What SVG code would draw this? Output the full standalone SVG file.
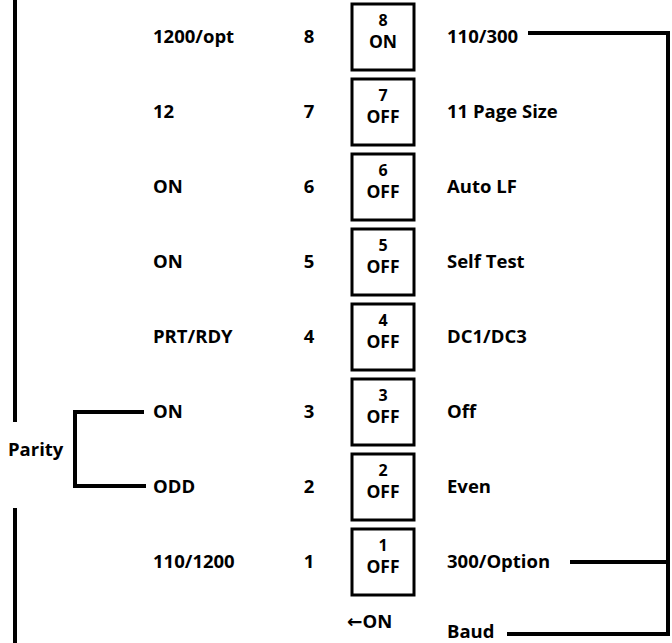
<svg xmlns="http://www.w3.org/2000/svg" width="672" height="643" viewBox="0 0 672 643">
<style>
text{font-family:"Open Sans","Liberation Sans",sans-serif;font-weight:700;font-size:18.5px;fill:#000}
.sw rect{fill:#fff;stroke:#000;stroke-width:3}
.n{font-size:16px;text-anchor:middle}
.s{font-size:17.5px;text-anchor:middle}
.num{text-anchor:middle}
.ln{stroke:#000;stroke-width:4;fill:none}
</style>
<rect width="672" height="643" fill="#fff"/>
<g id="connectors">
<line class="ln" x1="15" y1="0" x2="15" y2="422" stroke-width="3.5"/>
<line class="ln" x1="15" y1="508" x2="15" y2="643" stroke-width="3.5"/>
<polyline class="ln" points="144,412 75,412 75,486 146,486" stroke-width="5"/>
<polyline class="ln" points="528,33 668,33 668,634 507,634"/>
<line class="ln" x1="570" y1="562" x2="668" y2="562"/>
</g>
<g id="sw8" class="sw"><rect x="352" y="4" width="62" height="66"/><text class="n" x="383" y="26">8</text><text class="s" x="383" y="48">ON</text></g>
<g id="sw7" class="sw"><rect x="352" y="79" width="62" height="66"/><text class="n" x="383" y="101">7</text><text class="s" x="383" y="123">OFF</text></g>
<g id="sw6" class="sw"><rect x="352" y="154" width="62" height="66"/><text class="n" x="383" y="176">6</text><text class="s" x="383" y="198">OFF</text></g>
<g id="sw5" class="sw"><rect x="352" y="229" width="62" height="66"/><text class="n" x="383" y="251">5</text><text class="s" x="383" y="273">OFF</text></g>
<g id="sw4" class="sw"><rect x="352" y="304" width="62" height="66"/><text class="n" x="383" y="326">4</text><text class="s" x="383" y="348">OFF</text></g>
<g id="sw3" class="sw"><rect x="352" y="379" width="62" height="66"/><text class="n" x="383" y="401">3</text><text class="s" x="383" y="423">OFF</text></g>
<g id="sw2" class="sw"><rect x="352" y="454" width="62" height="66"/><text class="n" x="383" y="476">2</text><text class="s" x="383" y="498">OFF</text></g>
<g id="sw1" class="sw"><rect x="352" y="529" width="62" height="66"/><text class="n" x="383" y="551">1</text><text class="s" x="383" y="573">OFF</text></g>
<g id="left-labels">
<text x="153" y="43">1200/opt</text>
<text x="153" y="118">12</text>
<text x="153" y="193">ON</text>
<text x="153" y="268">ON</text>
<text x="153" y="343">PRT/RDY</text>
<text x="153" y="418">ON</text>
<text x="153" y="493">ODD</text>
<text x="153" y="568">110/1200</text>
</g>
<g id="numbers">
<text class="num" x="309" y="43">8</text>
<text class="num" x="309" y="118">7</text>
<text class="num" x="309" y="193">6</text>
<text class="num" x="309" y="268">5</text>
<text class="num" x="309" y="343">4</text>
<text class="num" x="309" y="418">3</text>
<text class="num" x="309" y="493">2</text>
<text class="num" x="309" y="568">1</text>
</g>
<g id="right-labels">
<text x="447" y="43">110/300</text>
<text x="447" y="118">11 Page Size</text>
<text x="447" y="193">Auto LF</text>
<text x="447" y="268">Self Test</text>
<text x="447" y="343">DC1/DC3</text>
<text x="447" y="418">Off</text>
<text x="447" y="493">Even</text>
<text x="447" y="568">300/Option</text>
<text x="447" y="638">Baud</text>
</g>
<g id="parity"><text x="8" y="456">Parity</text></g>
<g id="on-arrow"><text x="347" y="628"><tspan font-family="DejaVu Sans">←</tspan>ON</text></g>
</svg>
